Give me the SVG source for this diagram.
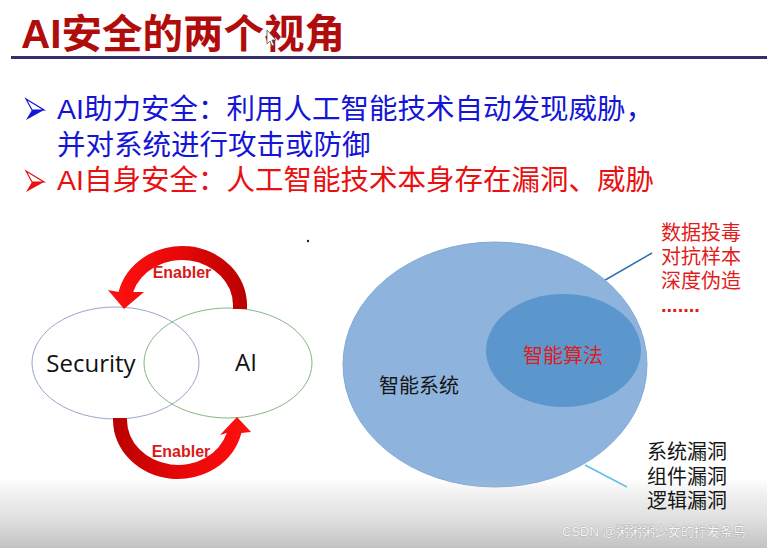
<svg xmlns="http://www.w3.org/2000/svg" width="767" height="548" viewBox="0 0 767 548">
<defs>
<style>
.cjk{font-family:"Liberation Sans","Noto Sans CJK SC",sans-serif}
.title{font-size:40px;font-weight:bold;fill:#b00c0c}
.b1{font-size:28.5px;fill:#1515d6}
.b2{font-size:28.5px;fill:#e81010}
.ven{font-family:"Open Sans","Liberation Sans",sans-serif;font-size:24px;fill:#111}
.en{font-family:"Liberation Sans",sans-serif;font-size:16px;font-weight:bold;fill:#d81a1a}
.lbl{font-size:20px}
.red{fill:#e01c1c}
.blk{fill:#151515}
</style>
<linearGradient id="gTop" gradientUnits="userSpaceOnUse" x1="110" y1="0" x2="248" y2="0">
<stop offset="0" stop-color="#ff1010"/><stop offset="0.5" stop-color="#e80808"/><stop offset="1" stop-color="#b80000"/>
</linearGradient>
<linearGradient id="gBot" gradientUnits="userSpaceOnUse" x1="112" y1="0" x2="252" y2="0">
<stop offset="0" stop-color="#b80000"/><stop offset="0.5" stop-color="#e80808"/><stop offset="1" stop-color="#ff1010"/>
</linearGradient>
<linearGradient id="gFade" x1="0" y1="0" x2="0" y2="1">
<stop offset="0" stop-color="#c4c4c4" stop-opacity="0"/><stop offset="0.5" stop-color="#d2d2d2" stop-opacity="0.6"/><stop offset="1" stop-color="#c2c2c2" stop-opacity="1"/>
</linearGradient>
</defs>
<rect width="767" height="548" fill="#ffffff"/>

<g id="title">
<text class="cjk title" x="21" y="48" textLength="324" lengthAdjust="spacingAndGlyphs">AI安全的两个视角</text>
<rect x="11" y="56" width="756" height="3" fill="#33306c"/>
</g>

<g id="bullets">
<polygon points="26,99 44,110 32,110" fill="#ffffff" stroke="#1515d6" stroke-width="1.2"/>
<polygon points="32,110 44,110 26,120" fill="#1515d6"/>
<text class="cjk b1" x="57" y="119">AI助力安全：利用人工智能技术自动发现威胁，</text>
<text class="cjk b1" x="57" y="155">并对系统进行攻击或防御</text>
<polygon points="26,171 44,182 32,182" fill="#ffffff" stroke="#e81010" stroke-width="1.2"/>
<polygon points="32,182 44,182 26,192" fill="#e81010"/>
<text class="cjk b2" x="57" y="190">AI自身安全：人工智能技术本身存在漏洞、威胁</text>
</g>

<g id="venn">
<g id="security">
<ellipse cx="115.5" cy="363" rx="83.5" ry="56" fill="none" stroke="#98a6cc" stroke-width="1"/>
<text class="ven" x="91" y="372" text-anchor="middle">Security</text>
</g>
<g id="ai">
<ellipse cx="228" cy="363" rx="84" ry="55" fill="none" stroke="#86b486" stroke-width="1"/>
<text class="ven" x="246" y="371" text-anchor="middle">AI</text>
</g>
</g>

<g id="connectors">
<path d="M247,309 L247,305 A65,59 0 0 0 118.6,292 L108,290 L124,309 L144,292 L133.2,292 A51,45 0 0 1 233,305 L233,309 Z" fill="url(#gTop)"/>
<path d="M113,418 L113,420 A65,59 0 0 0 241.4,433 L251,432 L237,417 L220,435 L226.8,433 A51,45 0 0 1 127,420 L127,418 Z" fill="url(#gBot)"/>
<line x1="581" y1="294" x2="652" y2="253" stroke="#2e6fb0" stroke-width="1.5"/>
<line x1="585" y1="465" x2="627" y2="487" stroke="#5cc0e2" stroke-width="1.5"/>
</g>
<text class="en" x="182" y="278" text-anchor="middle">Enabler</text>
<text class="en" x="181" y="457" text-anchor="middle">Enabler</text>
<circle cx="308" cy="241" r="1.2" fill="#222"/>

<g id="system">
<ellipse cx="495" cy="364.5" rx="152" ry="122.5" fill="#8eb4dd" stroke="#82aad6" stroke-width="1"/>
<text class="cjk lbl blk" x="379" y="393">智能系统</text>
</g>
<g id="algorithm">
<ellipse cx="563.5" cy="350.5" rx="77.5" ry="56.5" fill="#5b97cd"/>
<text class="cjk lbl red" x="523" y="363">智能算法</text>
</g>
<g id="algo-threats">
<text class="cjk lbl red" x="661" y="240">数据投毒</text>
<text class="cjk lbl red" x="661" y="264">对抗样本</text>
<text class="cjk lbl red" x="661" y="288">深度伪造</text>
<text class="cjk red" x="661" y="312" style="font-size:20px;font-weight:bold">.......</text>
</g>

<rect x="0" y="478" width="767" height="70" fill="url(#gFade)"/>

<g id="sys-threats">
<text class="cjk lbl blk" x="647" y="459">系统漏洞</text>
<text class="cjk lbl blk" x="647" y="484">组件漏洞</text>
<text class="cjk lbl blk" x="647" y="508">逻辑漏洞</text>
</g>
<text class="cjk" x="562" y="536" style="font-size:13px;fill:#f6f6f6;stroke:#9a9a9a;stroke-width:0.6px;paint-order:stroke">CSDN @粥粥粥少女的拧发条鸟</text>
<polygon points="267,30 267,44 270,41 272,46 274,45 272,40 276,40" fill="#ffffff" stroke="#555" stroke-width="0.8"/>
</svg>
